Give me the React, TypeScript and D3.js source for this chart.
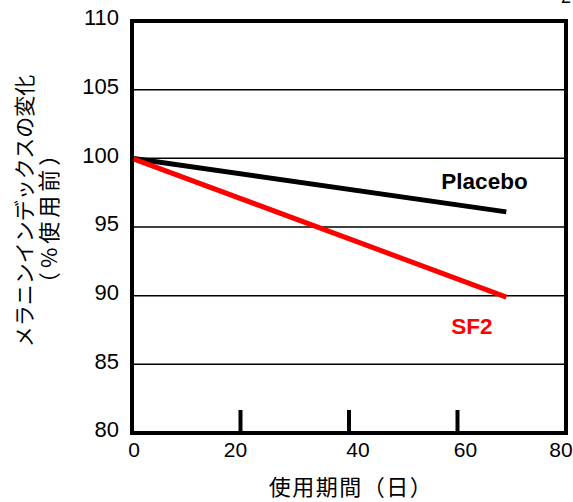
import { useEffect, useRef } from 'react';
import * as d3 from 'd3';

const xTicks = [0, 20, 40, 60, 80];
// the source places its x labels a little off the ticks
const xLabelShift = [2, -5, 9, 8, -5];
const yTicks = [80, 85, 90, 95, 100, 105, 110];
const innerTicks = [20, 40, 60];

const seriesNames = ['Placebo', 'SF2'];
const seriesColors = ['#000000', '#ff0000'];
const days = [0, 69];
const placeboValues = [100, 96.1];
const sf2Values = [100, 89.9];

export default function App() {
  const ref = useRef<SVGSVGElement>(null);

  useEffect(() => {
    if (!ref.current) return;
    const svg = d3.select(ref.current);
    svg.selectAll('*').remove();

    const left = 132, right = 566, top = 21, bottom = 433;
    const font = '"Liberation Sans", Arial, sans-serif';
    const jpFont = '"Noto Sans CJK JP", sans-serif';

    const x = d3.scaleLinear().domain([0, 80]).range([left, right]);
    const y = d3.scaleLinear().domain([80, 110]).range([bottom, top]);

    // gridlines
    svg.append('g')
      .selectAll('line')
      .data(yTicks.filter(v => v > 80 && v < 110))
      .join('line')
      .attr('x1', left).attr('x2', right)
      .attr('y1', d => y(d)).attr('y2', d => y(d))
      .attr('stroke', '#000').attr('stroke-width', 1.5);

    // series
    const line = d3.line<[number, number]>().x(d => x(d[0])).y(d => y(d[1]));
    [placeboValues, sf2Values].forEach((vals, i) => {
      svg.append('path')
        .datum(days.map((d, j) => [d, vals[j]] as [number, number]))
        .attr('d', line)
        .attr('fill', 'none')
        .attr('stroke', seriesColors[i])
        .attr('stroke-width', 5);
    });

    // inner tick marks
    svg.append('g')
      .selectAll('line')
      .data(innerTicks)
      .join('line')
      .attr('x1', d => x(d)).attr('x2', d => x(d))
      .attr('y1', bottom).attr('y2', bottom - 23)
      .attr('stroke', '#000').attr('stroke-width', 4);

    // frame
    svg.append('rect')
      .attr('x', left).attr('y', top)
      .attr('width', right - left).attr('height', bottom - top)
      .attr('fill', 'none').attr('stroke', '#000').attr('stroke-width', 4);

    // y tick labels
    svg.append('g')
      .selectAll('text')
      .data(yTicks)
      .join('text')
      .attr('x', left - 13)
      .attr('y', d => y(d))
      .attr('dy', '0.2em')
      .attr('text-anchor', 'end')
      .attr('font-family', font)
      .attr('font-size', 22)
      .text(d => d);

    // x tick labels
    svg.append('g')
      .selectAll('text')
      .data(xTicks)
      .join('text')
      .attr('x', (d, i) => x(d) + xLabelShift[i])
      .attr('y', 457)
      .attr('text-anchor', 'middle')
      .attr('font-family', font)
      .attr('font-size', 21)
      .text(d => d);

    // series labels
    svg.append('text')
      .attr('x', 484.5).attr('y', 189)
      .attr('text-anchor', 'middle')
      .attr('font-family', font).attr('font-weight', 'bold').attr('font-size', 22.5)
      .attr('fill', seriesColors[0])
      .text(seriesNames[0]);
    svg.append('text')
      .attr('x', 472).attr('y', 334)
      .attr('text-anchor', 'middle')
      .attr('font-family', font).attr('font-weight', 'bold').attr('font-size', 22.5)
      .attr('fill', seriesColors[1])
      .text(seriesNames[1]);

    // axis titles
    svg.append('text')
      .attr('x', 351).attr('y', 495)
      .attr('text-anchor', 'middle')
      .attr('font-family', jpFont).attr('font-size', 22)
      .attr('letter-spacing', 1.5)
      .text('使用期間（日）');

    svg.append('text')
      .attr('transform', 'translate(32,211) rotate(-90)')
      .attr('text-anchor', 'middle')
      .attr('font-family', jpFont).attr('font-size', 21)
      .text('メラニンインデックスの変化');
    svg.append('text')
      .attr('transform', 'translate(57,217) rotate(-90)')
      .attr('text-anchor', 'middle')
      .attr('font-family', jpFont).attr('font-size', 22)
      .attr('letter-spacing', 4)
      .text('（%使用前）');

    // page number (cut off at top)
    svg.append('text')
      .attr('x', 561).attr('y', 3)
      .attr('font-family', font).attr('font-size', 18)
      .text('2');
  }, []);

  return (
    <svg
      ref={ref}
      width={573}
      height={502}
      style={{ position: 'absolute', left: 0, top: 0, background: '#fff' }}
    />
  );
}
